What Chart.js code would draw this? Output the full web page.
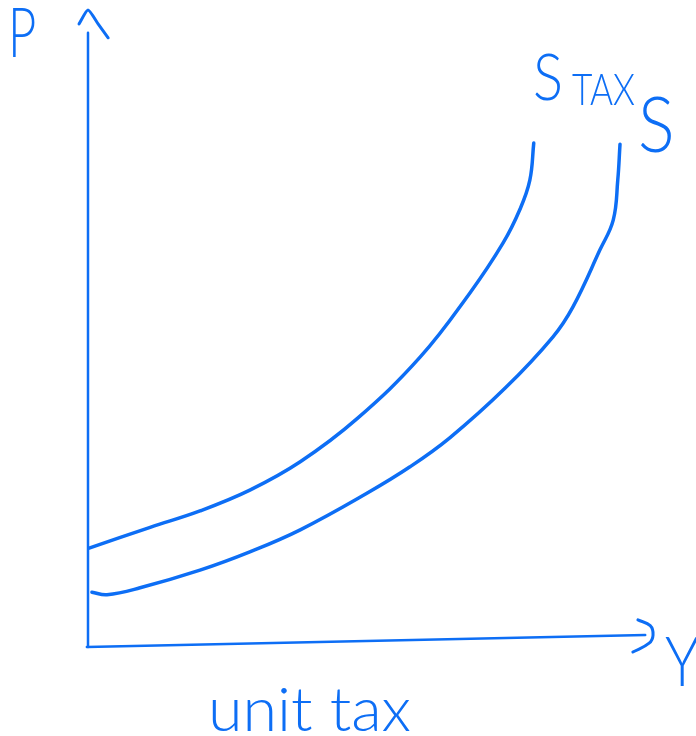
<!DOCTYPE html>
<html>
<head>
<meta charset="utf-8">
<script src="https://cdn.jsdelivr.net/npm/chart.js@4/dist/chart.umd.min.js"></script>
<style>
  html, body { margin: 0; padding: 0; background: #ffffff; }
  #wrap { width: 696px; height: 736px; position: relative; }
</style>
</head>
<body>
<div id="wrap"><canvas id="c" width="696" height="736"></canvas></div>
<script>
// ---- data (quantity Y on x, price P on y; 0..100 units) ----
const sTaxX = [0.2, 11.1, 20.0, 28.9, 37.9, 48.0, 59.3, 68.2, 74.1, 77.1, 78.9, 79.6];
const sTaxY = [15.7, 19.0, 21.6, 24.9, 29.4, 36.2, 46.0, 56.2, 64.1, 69.4, 74.1, 80.0];

const sX = [0.7, 3.4, 9.3, 20.0, 28.9, 37.9, 49.8, 57.5, 64.6, 74.5, 83.0, 86.6, 91.4, 93.8, 94.6, 95.0];
const sY = [8.7, 8.3, 9.4, 12.2, 15.1, 18.6, 24.4, 28.6, 33.2, 41.1, 49.2, 54.0, 63.0, 67.8, 74.1, 79.8];

// axes and arrow heads (hand-drawn)
const yAxisX = [0, 0];
const yAxisY = [0, 97.5];
const upArrowX = [-3.6, -1.6, 0, 1.8, 3.6];
const upArrowY = [96.3, 98.9, 101.1, 98.9, 96.7];
const xAxisX = [-0.2, 99.5];
const xAxisY = [0, 1.9];
const rightArrowX = [98.2, 100.4, 100.9, 100.2, 97.3];
const rightArrowY = [4.3, 3.4, 1.9, 0.6, -0.8];

// text labels
const labelTexts = ['P', 'S', 'TAX', 'S', 'Y', 'unit tax'];

const BLUE = 'rgb(13,110,245)';
const pts = (xs, ys) => xs.map((x, i) => ({ x: x, y: ys[i] }));

const textPlugin = {
  id: 'sketchText',
  afterDraw(chart) {
    const ctx = chart.ctx;
    const specs = [
      { t: labelTexts[0], x: 8,   y: 57,  size: 68, sx: 0.72 },
      { t: labelTexts[1], x: 533, y: 100, size: 66, sx: 0.85 },
      { t: labelTexts[2], x: 572, y: 105, size: 44, sx: 0.8 },
      { t: labelTexts[3], x: 638, y: 152, size: 76, sx: 0.9 },
      { t: labelTexts[4], x: 665, y: 686, size: 68, sx: 0.85 },
      { t: labelTexts[5], x: 208, y: 731, size: 61, sx: 1.03 }
    ];
    ctx.save();
    ctx.fillStyle = BLUE;
    ctx.textBaseline = 'alphabetic';
    specs.forEach(s => {
      ctx.save();
      ctx.translate(s.x, s.y);
      ctx.scale(s.sx, 1);
      ctx.font = '300 ' + s.size + 'px Lato, "Open Sans", "DejaVu Sans", sans-serif';
      ctx.fillText(s.t, 0, 0);
      ctx.restore();
    });
    ctx.restore();
  }
};

const lineDs = (label, data, width, tension) => ({
  label: label,
  data: data,
  showLine: true,
  borderColor: BLUE,
  borderWidth: width,
  pointRadius: 0,
  pointHoverRadius: 0,
  fill: false,
  tension: tension,
  borderCapStyle: 'round',
  borderJoinStyle: 'round',
  clip: false
});

new Chart(document.getElementById('c'), {
  type: 'scatter',
  data: {
    datasets: [
      lineDs('S tax', pts(sTaxX, sTaxY), 3.5, 0.4),
      lineDs('S', pts(sX, sY), 3.5, 0.4),
      lineDs('y axis', pts(yAxisX, yAxisY), 2.5, 0),
      lineDs('up arrow', pts(upArrowX, upArrowY), 3, 0.2),
      lineDs('x axis', pts(xAxisX, xAxisY), 2.5, 0),
      lineDs('right arrow', pts(rightArrowX, rightArrowY), 3, 0.4)
    ]
  },
  options: {
    responsive: false,
    animation: false,
    devicePixelRatio: 1,
    layout: { padding: { left: 88, right: 48, top: 17, bottom: 89 } },
    plugins: { legend: { display: false }, tooltip: { enabled: false } },
    scales: {
      x: { type: 'linear', min: 0, max: 100, display: false },
      y: { type: 'linear', min: 0, max: 100, display: false }
    }
  },
  plugins: [textPlugin]
});
</script>
</body>
</html>
